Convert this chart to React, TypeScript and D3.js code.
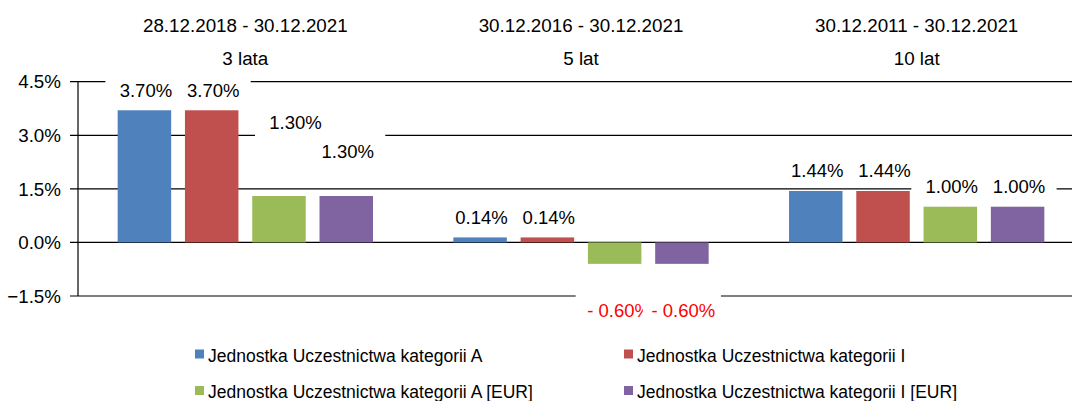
import React from "react";
import * as d3 from "d3";

const categories = ["3 lata", "5 lat", "10 lat"];
const periods = ["28.12.2018 - 30.12.2021", "30.12.2016 - 30.12.2021", "30.12.2011 - 30.12.2021"];
const seriesNames = [
  "Jednostka Uczestnictwa kategorii A",
  "Jednostka Uczestnictwa kategorii I",
  "Jednostka Uczestnictwa kategorii A [EUR]",
  "Jednostka Uczestnictwa kategorii I [EUR]",
];
const valuesA = [3.7, 0.14, 1.44];
const valuesI = [3.7, 0.14, 1.44];
const valuesAEur = [1.3, -0.6, 1.0];
const valuesIEur = [1.3, -0.6, 1.0];
const yTicks = [-1.5, 0, 1.5, 3.0, 4.5];
const colors = ["#4F81BD", "#C0504D", "#9BBB59", "#8064A2"];

// manually moved data labels (series index, category index, px nudges)
const labelNudges = [
  { s: 2, c: 0, dx: 15, dy: -53.5, tdx: 0 },
  { s: 3, c: 0, dx: 0, dy: -24.5, tdx: 0 },
  { s: 2, c: 1, dx: 0, dy: 26, tdx: 3 },
  { s: 3, c: 1, dx: 0, dy: 26, tdx: 0 },
];

const W = 1072;
const H = 401;
const FONT = "'Liberation Sans', Arial, sans-serif";

export default function App() {
  const seriesValues = [valuesA, valuesI, valuesAEur, valuesIEur];
  const y = d3.scaleLinear().domain([-1.5, 4.5]).range([296, 81.7]);
  const x0 = d3.scaleBand<string>().domain(categories).range([77.5, 1084.5]).padding(0);
  const x1 = d3
    .scaleBand<string>()
    .domain(seriesNames)
    .range([0, x0.bandwidth()])
    .paddingInner(0.205)
    .paddingOuter(0.597);
  const axisX = 78;
  const fmt = (v: number) => (v < 0 ? "- " + d3.format(".2f")(-v) + "%" : d3.format(".2f")(v) + "%");

  const bars: any[] = [];
  const labels: any[] = [];
  seriesValues.forEach((vals, s) => {
    vals.forEach((v, c) => {
      const bx = (x0(categories[c]) as number) + (x1(seriesNames[s]) as number);
      const bw = x1.bandwidth();
      const top = y(Math.max(0, v));
      const bottom = y(Math.min(0, v));
      bars.push(
        <rect key={`b${s}-${c}`} x={bx} y={top} width={bw} height={bottom - top} fill={colors[s]} />
      );
      const nudge = labelNudges.find((n) => n.s === s && n.c === c);
      const cx = bx + bw / 2 + (nudge ? nudge.dx : 0);
      const baseline = (v >= 0 ? top - 13.5 : bottom + 27) + (nudge ? nudge.dy : 0);
      labels.push({ s, c, cx, tdx: nudge ? nudge.tdx : 0, baseline, text: fmt(v), neg: v < 0 });
    });
  });
  const orderedLabels = labels.sort((a, b) => a.c - b.c || a.s - b.s);

  return (
    <svg
      width={W}
      height={H}
      style={{ position: "absolute", left: 0, top: 0, background: "#fff" }}
      fontFamily={FONT}
    >
      <rect x={0} y={0} width={W} height={H} fill="#fff" />
      {categories.map((c, i) => {
        const cx = (x0(c) as number) + x0.bandwidth() / 2;
        return (
          <g key={c}>
            <text x={cx} y={31.5} textAnchor="middle" fontSize={18.8} fill="#000">
              {periods[i]}
            </text>
            <text x={cx} y={65} textAnchor="middle" fontSize={18.8} fill="#000">
              {c}
            </text>
          </g>
        );
      })}
      {yTicks.map((t) => (
        <g key={t}>
          <line x1={70} x2={W} y1={y(t)} y2={y(t)} stroke="#000" strokeWidth={1.2} />
          <text x={61} y={y(t)} dy="0.36em" textAnchor="end" fontSize={18.8} fill="#000">
            {d3.format(".1f")(t) + "%"}
          </text>
        </g>
      ))}
      <line x1={axisX} x2={axisX} y1={y(4.5)} y2={y(-1.5)} stroke="#000" strokeWidth={1.2} />
      {bars}
      {orderedLabels.map((l) => (
        <g key={`l${l.s}-${l.c}`}>
          <rect x={l.cx - 39} y={l.baseline - 25} width={78} height={34} fill="#fff" />
          <text
            x={l.cx + 1.5 + l.tdx}
            y={l.baseline}
            textAnchor="middle"
            fontSize={18.5}
            fill={l.neg ? "#FF0000" : "#000"}
          >
            {l.text}
          </text>
        </g>
      ))}
      {seriesNames.map((n, i) => {
        const col = i % 2;
        const row = Math.floor(i / 2);
        const lx = col === 0 ? 195 : 624;
        const ly = row === 0 ? 361.5 : 398;
        return (
          <g key={n}>
            <rect x={lx} y={ly - 12} width={9} height={9} fill={colors[i]} />
            <text x={lx + 13} y={ly} fontSize={17.5} fill="#000">
              {n}
            </text>
          </g>
        );
      })}
    </svg>
  );
}
